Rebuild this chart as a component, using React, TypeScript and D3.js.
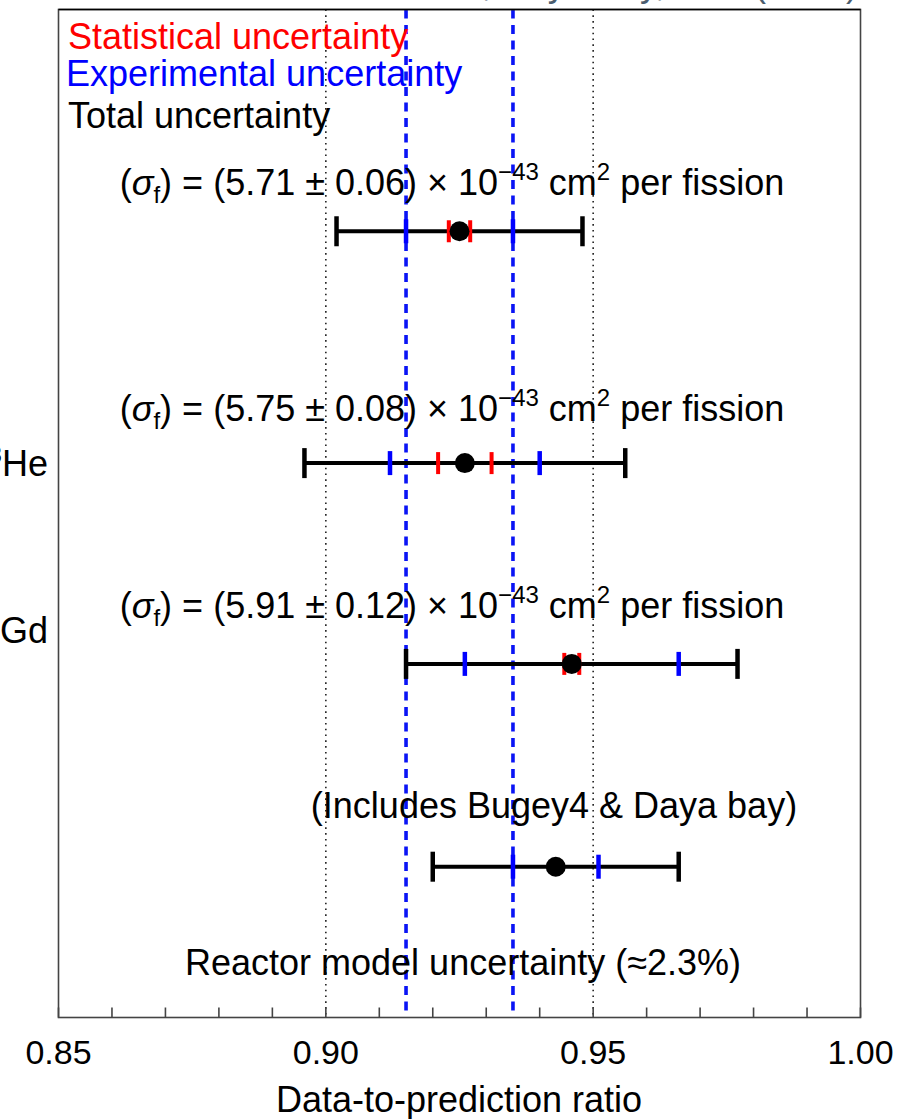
import React from "react";
import * as d3 from "d3";

// ---- data ----
const rowNames = ["Daya Bay", "Bugey-3 ³He", "Daya Bay n-Gd", "Global fit"];
const rowLabelsVisible = [null, "³He", "n-Gd", null];
const centers = [0.925, 0.926, 0.946, 0.943];
const statErr = [0.002, 0.005, 0.0014, 0];
const expErr = [0.010, 0.014, 0.020, 0.008];
const totErr = [0.023, 0.030, 0.031, 0.023];
const sigmaVals = ["5.71", "5.75", "5.91"];
const sigmaErrs = ["0.06", "0.08", "0.12"];
const rowPos = [3.9, 2.75, 1.754, 0.748];
const annotPos = [4.08, 2.96, 1.98, 0.99];
const refLines = [0.9, 0.95];
const bandLines = [0.915, 0.935];
const majorTicks = [0.85, 0.9, 0.95, 1.0];
const minorTicks = [0.86, 0.87, 0.88, 0.89, 0.91, 0.92, 0.93, 0.94, 0.96, 0.97, 0.98, 0.99];

const W = 913, H = 1119;
const L = 58.5, R = 860.5, T = 9.5, B = 1017.5;
const FONT = "'Liberation Sans', Arial, Helvetica, sans-serif";

export default function App() {
  const x = d3.scaleLinear().domain([0.85, 1.0]).range([L, R]);
  const y = d3.scaleLinear().domain([0, 5]).range([B, T]);
  const fs = 36;
  const ss = 24;

  return (
    <svg width={W} height={H} style={{ position: "absolute", left: 0, top: 0, background: "#fff" }} fontFamily={FONT}>
      {/* cut-off slide title */}
      <text x={858} y={-4} textAnchor="end" fontSize={36} fill="#4b5d6e">Fuel evolution, Daya Bay, PRL (2017)</text>

      {/* reference dotted lines */}
      {refLines.map((v) => (
        <line key={"r" + v} x1={x(v)} x2={x(v)} y1={T} y2={B} stroke="#222" strokeWidth={1.6} strokeDasharray="1.6 4.2" />
      ))}
      {/* blue dashed band */}
      {bandLines.map((v) => (
        <line key={"b" + v} x1={x(v)} x2={x(v)} y1={T} y2={B} stroke="#0a14f5" strokeWidth={3.6} strokeDasharray="9 6.5" />
      ))}

      {/* frame */}
      <rect x={L} y={T} width={R - L} height={B - T} fill="none" stroke="#444" strokeWidth={1.6} />
      <line x1={L} x2={R} y1={T} y2={T} stroke="#000" strokeWidth={1.6} />

      {/* ticks */}
      {[...majorTicks, ...minorTicks].map((v) => (
        <line key={"t" + v} x1={x(v)} x2={x(v)} y1={B} y2={B - 10} stroke="#444" strokeWidth={1.6} />
      ))}
      {majorTicks.map((v) => (
        <text key={"tl" + v} x={x(v)} y={1064} textAnchor="middle" fontSize={34} fill="#000">{v.toFixed(2)}</text>
      ))}
      <text x={459} y={1112} textAnchor="middle" fontSize={36} fill="#000">Data-to-prediction ratio</text>

      {/* legend */}
      <text x={68} y={49} fontSize={fs} fill="#ff0000">Statistical uncertainty</text>
      <text x={66} y={86} fontSize={fs} fill="#0000ff">Experimental uncertainty</text>
      <text x={68} y={128} fontSize={fs} fill="#000">Total uncertainty</text>

      {/* row labels (cut off on left) */}
      {rowLabelsVisible.map((lab, i) =>
        lab ? (
          <text key={"rl" + i} x={48} y={y(rowPos[i]) + (i === 2 ? -21 : 13)} textAnchor="end" fontSize={fs} fill="#000">
            {lab === "³He" ? (<><tspan fontSize={ss} dy={-13}>3</tspan><tspan dy={13}>He</tspan></>) : lab}
          </text>
        ) : null
      )}

      {/* sigma annotations */}
      {sigmaVals.map((v, i) => (
        <text key={"s" + i} x={452} y={y(annotPos[i])} textAnchor="middle" fontSize={fs} fill="#000">
          (<tspan fontStyle="italic">σ</tspan><tspan fontSize={ss} dy={8}>f</tspan><tspan dy={-8}>) = ({v} ± {sigmaErrs[i]}) × 10</tspan>
          <tspan fontSize={ss} dy={-15}>−43</tspan><tspan dy={15}> cm</tspan><tspan fontSize={ss} dy={-15}>2</tspan><tspan dy={15}> per fission</tspan>
        </text>
      ))}
      <text x={554} y={y(annotPos[3])} textAnchor="middle" fontSize={fs} fill="#000">(Includes Bugey4 &amp; Daya bay)</text>
      <text x={463} y={975} textAnchor="middle" fontSize={fs} fill="#000">Reactor model uncertainty (≈2.3%)</text>

      {/* error bars */}
      {centers.map((c, i) => {
        const yy = y(rowPos[i]);
        return (
          <g key={"e" + i}>
            <line x1={x(c - totErr[i])} x2={x(c + totErr[i])} y1={yy} y2={yy} stroke="#000" strokeWidth={4} />
            {[c - totErr[i], c + totErr[i]].map((v, k) => (
              <line key={"cap" + k} x1={x(v)} x2={x(v)} y1={yy - 15} y2={yy + 15} stroke="#000" strokeWidth={4.5} />
            ))}
            {[c - expErr[i], c + expErr[i]].map((v, k) => (
              <line key={"ex" + k} x1={x(v)} x2={x(v)} y1={yy - 12} y2={yy + 12} stroke="#0000ff" strokeWidth={4.5} />
            ))}
            {statErr[i] > 0 && [c - statErr[i], c + statErr[i]].map((v, k) => (
              <line key={"st" + k} x1={x(v)} x2={x(v)} y1={yy - 11} y2={yy + 11} stroke="#ff0000" strokeWidth={4} />
            ))}
            <circle cx={x(c)} cy={yy} r={10} fill="#000" />
          </g>
        );
      })}
    </svg>
  );
}
